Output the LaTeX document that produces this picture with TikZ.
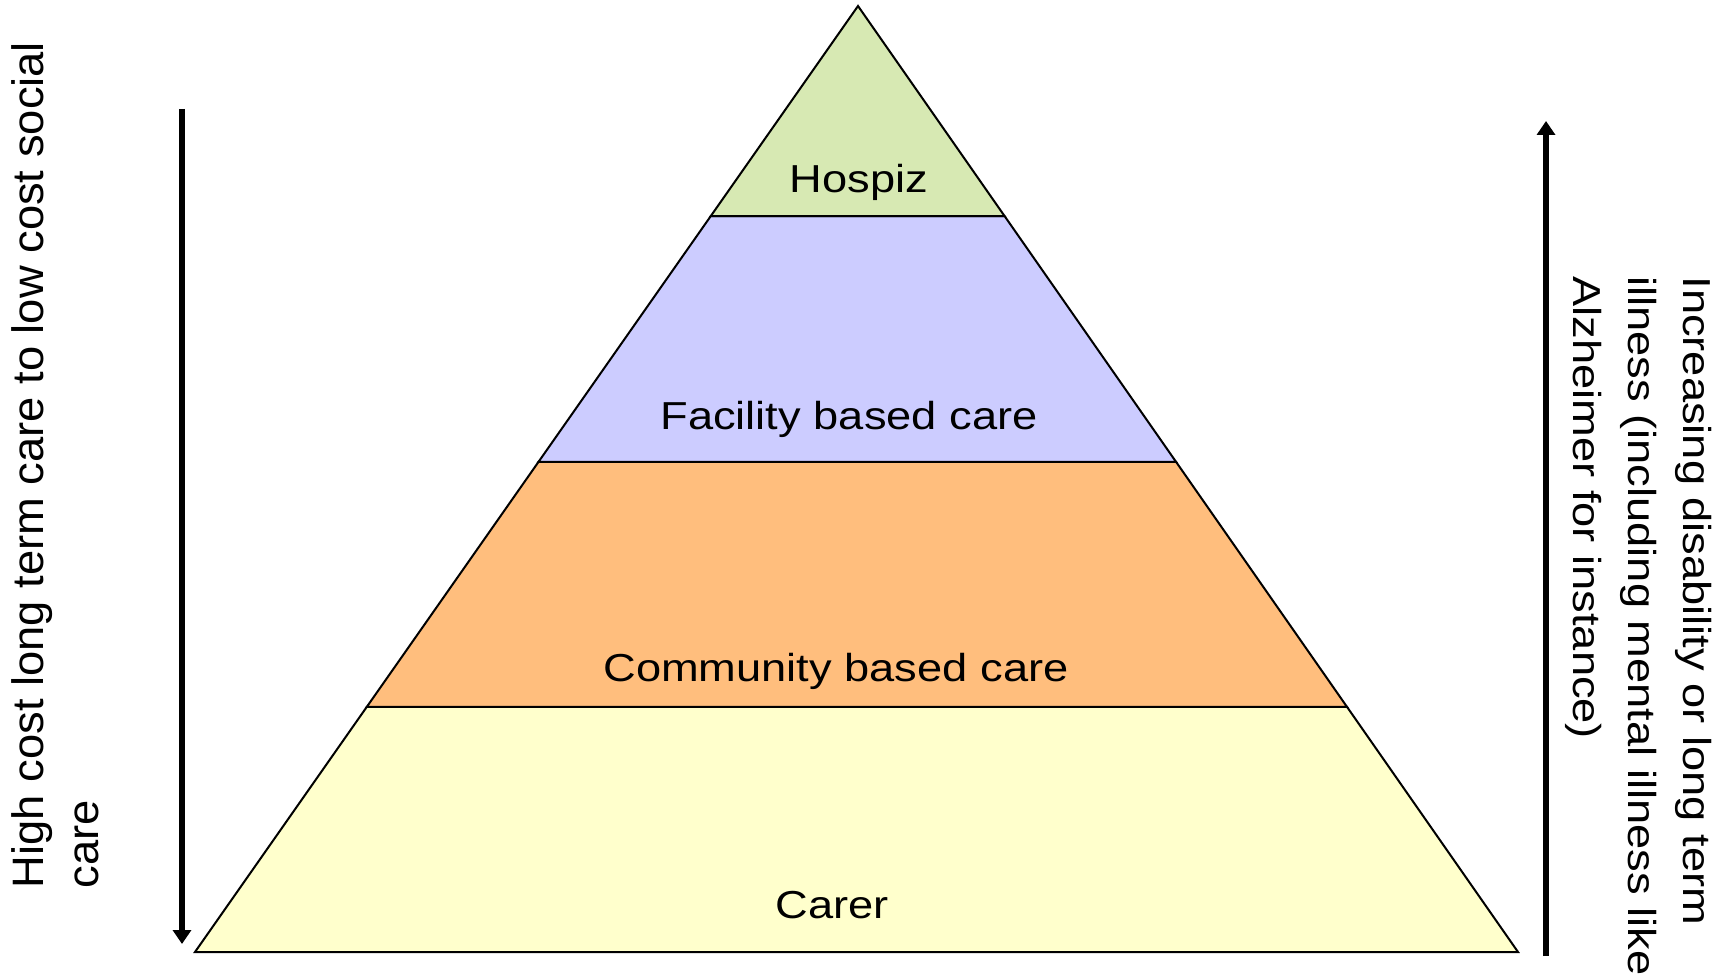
\documentclass[tikz,border=0pt]{standalone}
\usepackage{fontspec}
\setmainfont{Liberation Sans}
\newfontfamily\labfont[FakeStretch=1.16]{Liberation Sans}
\newfontfamily\leftfont[FakeStretch=1.03]{Liberation Sans}
\usetikzlibrary{arrows.meta,calc}
\definecolor{hospizgreen}{HTML}{D7E9B3}
\definecolor{facilityblue}{HTML}{CCCCFF}
\definecolor{communityorange}{HTML}{FFBE7D}
\definecolor{careryellow}{HTML}{FFFFCC}
\begin{document}
\begin{tikzpicture}[x=0.5pt,y=-0.5pt,
  layer/.style={draw=black, line width=1pt, line join=miter},
  lab/.style={font=\labfont\fontsize{19.5}{23}\selectfont, anchor=base, inner sep=0pt},
  sidetext/.style={inner sep=0pt, align=left},
  bigarrow/.style={line width=3.4pt, -{Triangle[width=9pt,length=7pt]}}]
\useasboundingbox (0,0) rectangle (1729,977);
\coordinate (apex) at (858,6);
\coordinate (bl) at (195,952);
\coordinate (br) at (1518,952);
\coordinate (l1) at ($(apex)!0.222!(bl)$);
\coordinate (r1) at ($(apex)!0.222!(br)$);
\coordinate (l2) at ($(apex)!0.482!(bl)$);
\coordinate (r2) at ($(apex)!0.482!(br)$);
\coordinate (l3) at ($(apex)!0.741!(bl)$);
\coordinate (r3) at ($(apex)!0.741!(br)$);
% layers
\filldraw[layer, fill=careryellow] (l3) -- (r3) -- (br) -- (bl) -- cycle;
\filldraw[layer, fill=communityorange] (l2) -- (r2) -- (r3) -- (l3) -- cycle;
\filldraw[layer, fill=facilityblue] (l1) -- (r1) -- (r2) -- (l2) -- cycle;
\filldraw[layer, fill=hospizgreen] (apex) -- (r1) -- (l1) -- cycle;
% labels
\node[lab] (hospiz) at (859,193) {Hospiz};
\node[lab] (facility) at (849,430) {Facility based care};
\node[lab] (community) at (836,682) {Community based care};
\node[lab] (carer) at (832,918) {Carer};
% arrows
\coordinate (la1) at (182,109);
\coordinate (la2) at (182,944);
\draw[bigarrow] (la1) -- (la2);
\coordinate (ra1) at (1546,956);
\coordinate (ra2) at (1546,121);
\draw[bigarrow] (ra1) -- (ra2);
% side texts
\node[sidetext, rotate=90, font=\leftfont\fontsize{22}{27.5}\selectfont] (lefttext) at (55,465)
  {High cost long term care to low cost social\\care};
\node[sidetext, rotate=-90, font=\labfont\fontsize{19.5}{27.5}\selectfont] (righttext) at (1639,626)
  {Increasing disability or long term\\illness (including mental illness like\\Alzheimer for instance)};
\end{tikzpicture}
\end{document}
